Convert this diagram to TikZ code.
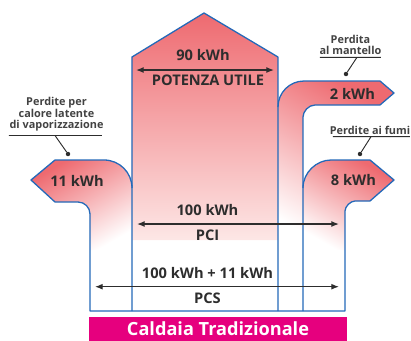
\documentclass[tikz,border=0pt]{standalone}
\usepackage{fontspec}
\setsansfont{Open Sans}
\usetikzlibrary{arrows.meta}
\definecolor{rim}{RGB}{35,105,185}
\definecolor{heat}{RGB}{238,106,112}
\definecolor{pale}{RGB}{253,231,230}
\definecolor{ink}{RGB}{45,45,45}
\definecolor{magent}{RGB}{230,0,126}
\tikzset{ wall/.style = { draw       = rim
                        , line width = 1.1pt
                        , line join  = round
                        },
          val/.style  = { font      = \sffamily\bfseries\fontsize{12.5}{14}\selectfont
                        , text      = ink
                        , inner sep = 0pt
                        },
          note/.style = { font      = \sffamily\bfseries\fontsize{9.3}{9.8}\selectfont
                        , text      = ink!90!white
                        , align     = center
                        , inner sep = 0pt
                        },
          dim/.style  = { draw       = ink
                        , line width = 1pt
                        , {Latex[length=6.5pt,width=5pt]}-{Latex[length=6.5pt,width=5pt]}
                        },
          lead/.style = { draw       = ink
                        , line width = 0.8pt
                        },
          knob/.style = { circle
                        , fill         = ink
                        , inner sep    = 0pt
                        , minimum size = 3.8pt
                        },
          band/.style = { fill         = magent
                        , text         = white
                        , font         = \sffamily\bfseries\fontsize{15.5}{17}\selectfont
                        , minimum width  = 7.74cm
                        , minimum height = 0.72cm
                        , inner sep    = 0pt
                        }
        }
\begin{document}
\begin{tikzpicture}[x=0.3cm, y=-0.3cm, font=\sffamily]
    \useasboundingbox (0,0) rectangle (41.1,34.1);
    % gradients
    \shade[top color=heat, bottom color=pale]
        (13.2,24.0) -- (13.2,5.7) -- (20.4,1.3) -- (27.8,5.7) -- (27.8,24.0) -- cycle;
    \shade[top color=heat, middle color=heat!30!white, bottom color=white, shading angle=30]
        (9.0,25.0) -- (9.0,21.4) .. controls (9.0,20.74) and (8.46,20.2) .. (7.8,20.2) -- (5.5,20.2)
        -- (3.1,18.0) -- (5.5,16.0) -- (10.4,16.0) .. controls (11.95,16.0) and (13.2,17.25) .. (13.2,18.8)
        -- (13.2,25.0) -- cycle;
    \shade[top color=heat, middle color=heat!30!white, bottom color=white, shading angle=-30]
        (27.8,25.0) -- (27.8,10.7) .. controls (27.8,9.26) and (28.96,8.1) .. (30.4,8.1) -- (38.0,8.1)
        -- (39.4,9.3) -- (38.0,10.5) -- (31.5,10.5) .. controls (30.84,10.5) and (30.3,11.16) .. (30.3,11.7)
        -- (30.3,25.0) -- cycle;
    \shade[top color=heat, middle color=heat!30!white, bottom color=white, shading angle=-30]
        (30.3,25.0) -- (30.3,18.8) .. controls (30.3,17.25) and (31.65,16.0) .. (33.1,16.0) -- (37.0,16.0)
        -- (39.4,18.0) -- (37.0,20.1) -- (35.5,20.1) .. controls (35.05,20.1) and (34.5,20.65) .. (34.5,21.1)
        -- (34.5,25.0) -- cycle;
    % outlines
    \draw[wall] (13.2,31.1) -- (13.2,5.7) -- (20.4,1.3) -- (27.8,5.7) -- (27.8,31.1);
    \draw[wall] (13.2,18.8) .. controls (13.2,17.25) and (11.95,16.0) .. (10.4,16.0) -- (5.5,16.0)
        -- (3.1,18.0) -- (5.5,20.2) -- (7.8,20.2) .. controls (8.46,20.2) and (9.0,20.74) .. (9.0,21.4)
        -- (9.0,31.1) -- (34.5,31.1) -- (34.5,21.1) .. controls (34.5,20.65) and (35.05,20.1) .. (35.5,20.1)
        -- (37.0,20.1) -- (39.4,18.0) -- (37.0,16.0) -- (33.1,16.0)
        .. controls (31.65,16.0) and (30.3,17.25) .. (30.3,18.8);
    \draw[wall] (27.8,10.7) .. controls (27.8,9.26) and (28.96,8.1) .. (30.4,8.1) -- (38.0,8.1)
        -- (39.4,9.3) -- (38.0,10.5) -- (31.5,10.5) .. controls (30.84,10.5) and (30.3,11.16) .. (30.3,11.7)
        -- (30.3,31.1);
    % values
    \foreach \n/\x/\y/\txt in {util/20.3/5.55/90 kWh, pci/20.75/21.0/100 kWh,
                               pcs/20.75/27.35/100 kWh + 11 kWh, lat/7.7/18.1/11 kWh,
                               mant/35.25/9.35/2 kWh, fumi/35.35/18.05/8 kWh} {
      \node[val] (\n) at (\x,\y) {\txt};
    }
    \foreach \n/\x/\y/\txt in {util/20.8/8.05/POTENZA UTILE, pci/20.75/23.55/PCI,
                               pcs/20.75/29.8/PCS} {
      \node[val] (\n N) at (\x,\y) {\txt};
    }
    \foreach \n/\a/\b/\y in {util/13.6/27.4/7.0, pci/13.7/33.9/22.4, pcs/9.5/33.9/28.67} {
      \coordinate (\n W) at (\a,\y);
      \coordinate (\n E) at (\b,\y);
      \draw[dim] (\n W) -- (\n E);
    }
    % losses
    \node[note] (vap) at (5.65,11.45) {Perdite per\\calore latente\\di vaporizzazione};
    \node[note] (man) at (35.05,4.47) {Perdita\\al mantello};
    \node[note] (fum) at (37.0,13.0) {Perdite ai fumi};
    \foreach \n/\a/\b/\y/\p/\q/\r in {vap/0.9/10.2/13.55/5.5/6.8/15.4,
                                      man/32.0/38.1/5.73/35.7/34.6/7.4,
                                      fum/33.3/41.0/13.67/37.1/36.0/15.4} {
      \coordinate (\n W) at (\a,\y);
      \coordinate (\n E) at (\b,\y);
      \coordinate (\n L) at (\p,\y);
      \node[knob] (\n D) at (\q,\r) {};
      \draw[lead] (\n W) -- (\n E)  (\n L) -- (\n D);
    }
    \node[band] (caldaia) at (21.8,32.9) {Caldaia Tradizionale};
\end{tikzpicture}
\end{document}
